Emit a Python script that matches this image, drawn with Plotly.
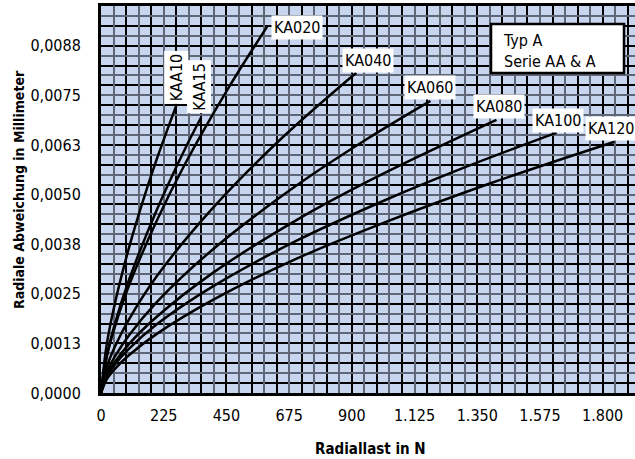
import plotly.graph_objects as go

# ---- data ----
series_names = ["KAA10", "KAA15", "KA020", "KA040", "KA060", "KA080", "KA100", "KA120"]
load_KAA10 = [0, 20, 50, 100, 150, 200, 270]
defl_KAA10 = [0, 0.00120, 0.00226, 0.00365, 0.00483, 0.00589, 0.00724]
load_KAA15 = [0, 20, 50, 100, 200, 300, 359]
defl_KAA15 = [0, 0.00092, 0.00175, 0.00284, 0.00461, 0.00613, 0.00694]
load_KA020 = [0, 20, 50, 100, 200, 300, 450, 596]
defl_KA020 = [0, 0.00089, 0.00167, 0.00270, 0.00434, 0.00575, 0.00760, 0.00923]
load_KA040 = [0, 20, 50, 100, 200, 400, 650, 916]
defl_KA040 = [0, 0.00064, 0.00117, 0.00185, 0.00294, 0.00465, 0.00643, 0.00807]
load_KA060 = [0, 20, 50, 100, 200, 400, 700, 950, 1182]
defl_KA060 = [0, 0.00051, 0.00092, 0.00145, 0.00229, 0.00361, 0.00522, 0.00638, 0.00736]
load_KA080 = [0, 20, 50, 100, 200, 400, 700, 1000, 1419]
defl_KA080 = [0, 0.00043, 0.00078, 0.00123, 0.00192, 0.00302, 0.00435, 0.00548, 0.00688]
load_KA100 = [0, 20, 50, 100, 200, 400, 700, 1000, 1300, 1635]
defl_KA100 = [0, 0.00040, 0.00072, 0.00111, 0.00173, 0.00268, 0.00383, 0.00480, 0.00567, 0.00656]
load_KA120 = [0, 20, 50, 100, 200, 400, 700, 1000, 1400, 1843]
defl_KA120 = [0, 0.00034, 0.00061, 0.00095, 0.00149, 0.00234, 0.00338, 0.00425, 0.00529, 0.00633]

# label positions (data coords) and rotation
label_x = [271, 352, 704, 957, 1182, 1428, 1640, 1829]
label_y = [0.00794, 0.00772, 0.00920, 0.00837, 0.00769, 0.00721, 0.00686, 0.00666]
label_angle = [-90, -90, 0, 0, 0, 0, 0, 0]

x_tickvals = [0, 225, 450, 675, 900, 1125, 1350, 1575, 1800]
x_ticktext = ["0", "225", "450", "675", "900", "1.125", "1.350", "1.575", "1.800"]
y_tickvals = [0, 0.00125, 0.0025, 0.00375, 0.005, 0.00625, 0.0075, 0.00875]
y_ticktext = ["0,0000", "0,0013", "0,0025", "0,0038", "0,0050", "0,0063", "0,0075", "0,0088"]

x_title = "Radiallast in N"
y_title = "Radiale Abweichung in Millimeter"
box_text = "Typ A<br>Serie AA & A"

loads = [load_KAA10, load_KAA15, load_KA020, load_KA040, load_KA060, load_KA080, load_KA100, load_KA120]
defls = [defl_KAA10, defl_KAA15, defl_KA020, defl_KA040, defl_KA060, defl_KA080, defl_KA100, defl_KA120]

FONT = "DejaVu Sans Condensed, Liberation Sans Narrow, sans-serif"
XR = [0, 1916]
YR = [0, 0.00975]

W, H = 635, 459
PL, PR, PT, PB = 101, 635, 6, 393   # plot area in page pixels


def px(xp):
    return (xp - PL) / (PR - PL)


def py(yp):
    return (PB - yp) / (PB - PT)


fig = go.Figure()
# empty traces to anchor grid-only overlay axes
fig.add_trace(go.Scatter(x=[], y=[], xaxis="x2", yaxis="y2", showlegend=False))
fig.add_trace(go.Scatter(x=[], y=[], xaxis="x3", yaxis="y3", showlegend=False))

for name, xs, ys in zip(series_names, loads, defls):
    fig.add_trace(go.Scatter(x=xs, y=ys, mode="lines", name=name,
                             line=dict(color="black", width=2.5, shape="spline", smoothing=1.0),
                             showlegend=False, hoverinfo="skip"))

for name, lx, ly, ang in zip(series_names, label_x, label_y, label_angle):
    fig.add_annotation(x=lx, y=ly, xref="x", yref="y", text=name, showarrow=False,
                       textangle=ang, bgcolor="white", borderpad=2,
                       font=dict(family=FONT, size=16, color="black"))

GRAY = "#5f6777"
common_hidden = dict(showticklabels=False, ticks="", zeroline=False, showline=False)
fig.update_layout(
    width=W, height=H,
    margin=dict(l=PL, r=W - PR, t=PT, b=H - PB),
    paper_bgcolor="white",
    plot_bgcolor="#c7d5ef",
    showlegend=False,
    xaxis=dict(range=XR, tickvals=x_tickvals, ticktext=x_ticktext, showgrid=False,
               zeroline=False, showline=True, linecolor="black", linewidth=3, mirror=True,
               ticks="", ticklabelstandoff=6,
               tickfont=dict(family=FONT, size=16, color="black")),
    yaxis=dict(range=YR, tickvals=y_tickvals, ticktext=y_ticktext, showgrid=False,
               zeroline=False, showline=True, linecolor="black", linewidth=3,
               ticks="", ticklabelstandoff=14,
               tickfont=dict(family=FONT, size=16, color="black")),
    xaxis2=dict(overlaying="x", range=XR, tick0=0, dtick=90, showgrid=True,
                gridcolor="black", gridwidth=1.5, **common_hidden),
    yaxis2=dict(overlaying="y", range=YR, tick0=0.00025, dtick=0.0005, showgrid=True,
                gridcolor="black", gridwidth=1.5, **common_hidden),
    xaxis3=dict(overlaying="x", range=XR, tick0=45, dtick=90, showgrid=True,
                gridcolor=GRAY, gridwidth=2, **common_hidden),
    yaxis3=dict(overlaying="y", range=YR, tick0=0, dtick=0.0005, showgrid=True,
                gridcolor=GRAY, gridwidth=2, **common_hidden),
)

# info box
fig.add_shape(type="rect", xref="paper", yref="paper",
              x0=px(491), x1=px(624), y0=py(73), y1=py(24),
              fillcolor="white", line=dict(color="black", width=2.5), layer="above")
fig.add_annotation(xref="paper", yref="paper", x=px(501), y=py(29),
                   xanchor="left", yanchor="top", align="left", text=box_text,
                   showarrow=False, font=dict(family=FONT, size=16, color="black"))

fig.add_annotation(xref="paper", yref="paper", x=px(370), y=py(449),
                   xanchor="center", yanchor="middle",
                   text="<b>" + x_title + "</b>", showarrow=False,
                   font=dict(family=FONT, size=15, color="black"))
fig.add_annotation(xref="paper", yref="paper", x=px(19), y=py(190),
                   xanchor="center", yanchor="middle",
                   text="<b>" + y_title + "</b>", showarrow=False, textangle=-90,
                   font=dict(family=FONT, size=14, color="black"))

fig.write_html("out.html",
               config={"displayModeBar": False},
               post_script="document.body.style.margin='0';"
                           "document.body.style.overflow='hidden';")
